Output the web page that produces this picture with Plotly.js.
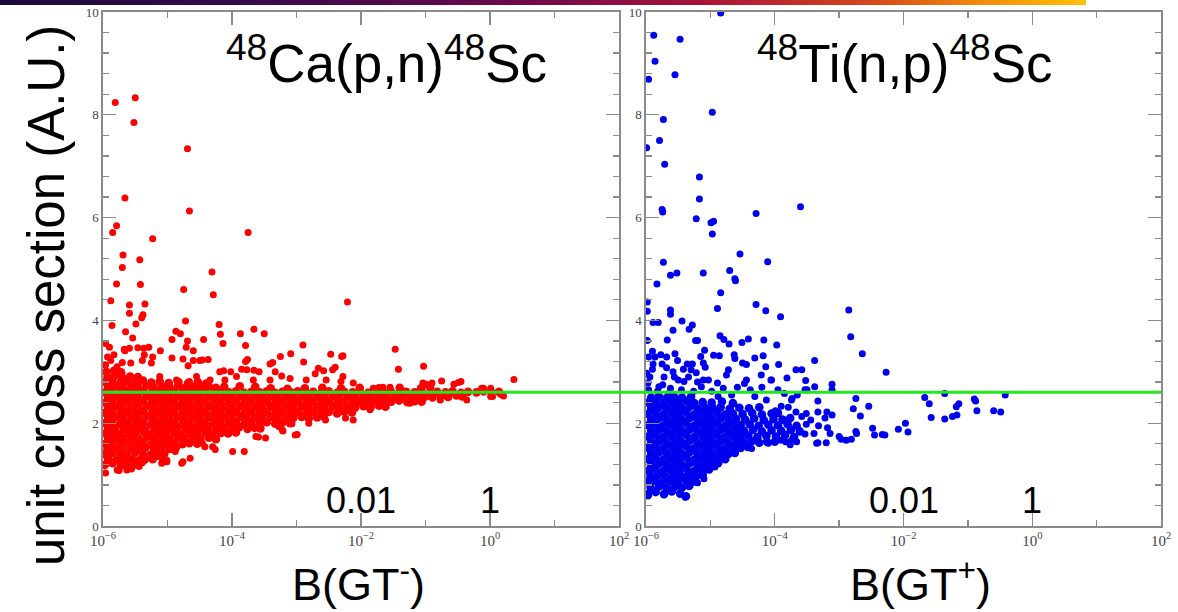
<!DOCTYPE html>
<html>
<head>
<meta charset="utf-8">
<script src="https://cdn.plot.ly/plotly-3.0.1.min.js"></script>
<style>
  html, body { margin: 0; padding: 0; background: #fff; }
  #wrap { position: relative; width: 1178px; height: 612px; }
  #bar { position: absolute; left: 0; top: 0; width: 1086px; height: 5px; z-index: 5;
         background: linear-gradient(to right, #1a0b3a 0%, #3b0a4c 25%, #6e0a4a 48%, #a8143a 65%, #d4461c 80%, #f08a0c 90%, #ffc200 100%); }
  #chart { position: absolute; left: 0; top: 0; width: 1178px; height: 612px; }
</style>
</head>
<body>
<div id="wrap"><div id="bar"></div><div id="chart"></div></div>
<script>
// ---- axis ticks ----
const xTickVals = [1e-6, 1e-4, 1e-2, 1, 100];
const xTickText = ['10<sup>−6</sup>', '10<sup>−4</sup>', '10<sup>−2</sup>', '10<sup>0</sup>', '10<sup>2</sup>'];
const xMinorVals = [1e-5, 1e-3, 1e-1, 10];
const yTickVals = [0, 2, 4, 6, 8, 10];
const yTickText = ['0', '2', '4', '6', '8', '10'];
const refLevel = 2.6;   // green reference line (unit cross section)

// ---- 48Ca(p,n)48Sc : [log10 B(GT-), unit cross section] ----
const caCore = [
 [-5.97,1.19],[-5.85,1.22],[-5.72,1.18],[-5.61,1.21],[-5.49,1.2],[-5.4,1.24],
 [-5.92,1.31],[-5.79,1.29],[-5.68,1.32],[-5.55,1.3],[-5.44,1.28],[-5.33,1.33],[-5.23,1.3],
 [-5.98,1.4],[-5.86,1.42],[-5.74,1.39],[-5.63,1.41],[-5.5,1.43],[-5.38,1.4],[-5.27,1.38],[-5.15,1.42],[-5.05,1.4],
 [-5.93,1.5],[-5.81,1.52],[-5.7,1.49],[-5.57,1.51],[-5.45,1.5],[-5.34,1.53],[-5.21,1.49],[-5.1,1.51],[-4.97,1.5],[-4.87,1.52],
 [-5.97,1.6],[-5.86,1.62],[-5.73,1.59],[-5.62,1.61],[-5.49,1.6],[-5.38,1.63],[-5.25,1.59],[-5.14,1.61],[-5.01,1.6],[-4.9,1.62],[-4.77,1.59],[-4.66,1.61],[-4.54,1.6],
 [-5.92,1.7],[-5.8,1.72],[-5.69,1.69],[-5.56,1.71],[-5.45,1.7],[-5.32,1.73],[-5.21,1.69],[-5.08,1.71],[-4.97,1.7],[-4.84,1.72],[-4.73,1.69],[-4.6,1.71],[-4.49,1.7],[-4.36,1.72],[-4.25,1.69],
 [-5.97,1.8],[-5.85,1.82],[-5.74,1.79],[-5.61,1.81],[-5.5,1.8],[-5.37,1.83],[-5.26,1.79],[-5.13,1.81],[-5.02,1.8],[-4.89,1.82],[-4.78,1.79],[-4.65,1.81],[-4.54,1.8],[-4.41,1.82],[-4.3,1.79],[-4.17,1.81],[-4.06,1.8],[-3.94,1.82],
 [-5.92,1.9],[-5.81,1.92],[-5.68,1.89],[-5.57,1.91],[-5.44,1.9],[-5.33,1.93],[-5.2,1.89],[-5.09,1.91],[-4.96,1.9],[-4.85,1.92],[-4.72,1.89],[-4.61,1.91],[-4.48,1.9],[-4.37,1.92],[-4.24,1.89],[-4.13,1.91],[-4.0,1.9],[-3.89,1.92],[-3.76,1.89],[-3.65,1.91],[-3.56,1.9],
 [-5.97,2.0],[-5.86,2.02],[-5.73,1.99],[-5.62,2.01],[-5.49,2.0],[-5.38,2.03],[-5.25,1.99],[-5.14,2.01],[-5.01,2.0],[-4.9,2.02],[-4.77,1.99],[-4.66,2.01],[-4.53,2.0],[-4.42,2.02],[-4.29,1.99],[-4.18,2.01],[-4.05,2.0],[-3.94,2.02],[-3.81,1.99],[-3.7,2.01],[-3.57,2.0],[-3.46,2.02],[-3.33,1.99],[-3.22,2.01],[-3.1,2.0],
 [-5.92,2.1],[-5.8,2.12],[-5.69,2.09],[-5.56,2.11],[-5.45,2.1],[-5.32,2.13],[-5.21,2.09],[-5.08,2.11],[-4.97,2.1],[-4.84,2.12],[-4.73,2.09],[-4.6,2.11],[-4.49,2.1],[-4.36,2.12],[-4.25,2.09],[-4.12,2.11],[-4.01,2.1],[-3.88,2.12],[-3.77,2.09],[-3.64,2.11],[-3.53,2.1],[-3.4,2.12],[-3.29,2.09],[-3.16,2.11],[-3.05,2.1],[-2.92,2.12],[-2.81,2.09],[-2.68,2.11],[-2.58,2.13],
 [-5.97,2.2],[-5.86,2.22],[-5.73,2.19],[-5.62,2.21],[-5.49,2.2],[-5.38,2.23],[-5.25,2.19],[-5.14,2.21],[-5.01,2.2],[-4.9,2.22],[-4.77,2.19],[-4.66,2.21],[-4.53,2.2],[-4.42,2.22],[-4.29,2.19],[-4.18,2.21],[-4.05,2.2],[-3.94,2.22],[-3.81,2.19],[-3.7,2.21],[-3.57,2.2],[-3.46,2.22],[-3.33,2.19],[-3.22,2.21],[-3.09,2.2],[-2.98,2.22],[-2.85,2.19],[-2.74,2.21],[-2.61,2.2],[-2.5,2.22],[-2.37,2.19],[-2.26,2.23],[-2.14,2.21],
 [-5.92,2.3],[-5.8,2.32],[-5.69,2.29],[-5.56,2.31],[-5.45,2.3],[-5.32,2.33],[-5.21,2.29],[-5.08,2.31],[-4.97,2.3],[-4.84,2.32],[-4.73,2.29],[-4.6,2.31],[-4.49,2.3],[-4.36,2.32],[-4.25,2.29],[-4.12,2.31],[-4.01,2.3],[-3.88,2.32],[-3.77,2.29],[-3.64,2.31],[-3.53,2.3],[-3.4,2.32],[-3.29,2.29],[-3.16,2.31],[-3.05,2.3],[-2.92,2.32],[-2.81,2.29],[-2.68,2.31],[-2.57,2.3],[-2.44,2.32],[-2.33,2.29],[-2.2,2.31],[-2.09,2.3],[-1.96,2.33],[-1.85,2.31],[-1.72,2.34],[-1.62,2.32],
 [-5.97,2.4],[-5.86,2.42],[-5.73,2.39],[-5.62,2.41],[-5.49,2.4],[-5.38,2.43],[-5.25,2.39],[-5.14,2.41],[-5.01,2.4],[-4.9,2.42],[-4.77,2.39],[-4.66,2.41],[-4.53,2.4],[-4.42,2.42],[-4.29,2.39],[-4.18,2.41],[-4.05,2.4],[-3.94,2.42],[-3.81,2.39],[-3.7,2.41],[-3.57,2.4],[-3.46,2.42],[-3.33,2.39],[-3.22,2.41],[-3.09,2.4],[-2.98,2.42],[-2.85,2.39],[-2.74,2.41],[-2.61,2.4],[-2.5,2.42],[-2.37,2.39],[-2.26,2.41],[-2.13,2.4],[-2.02,2.42],[-1.89,2.41],[-1.78,2.43],[-1.65,2.4],[-1.53,2.42],[-1.41,2.44],[-1.28,2.41],[-1.17,2.43],[-1.06,2.42],
 [-5.92,2.5],[-5.8,2.52],[-5.69,2.49],[-5.56,2.51],[-5.45,2.5],[-5.32,2.53],[-5.21,2.49],[-5.08,2.51],[-4.97,2.5],[-4.84,2.52],[-4.73,2.49],[-4.6,2.51],[-4.49,2.5],[-4.36,2.52],[-4.25,2.49],[-4.12,2.51],[-4.01,2.5],[-3.88,2.52],[-3.77,2.49],[-3.64,2.51],[-3.53,2.5],[-3.4,2.52],[-3.29,2.49],[-3.16,2.51],[-3.05,2.5],[-2.92,2.52],[-2.81,2.49],[-2.68,2.51],[-2.57,2.5],[-2.44,2.52],[-2.33,2.49],[-2.2,2.51],[-2.09,2.5],[-1.96,2.52],[-1.85,2.49],[-1.72,2.51],[-1.61,2.5],[-1.48,2.52],[-1.37,2.5],[-1.24,2.53],[-1.13,2.51],[-1.0,2.52],[-0.89,2.5],[-0.76,2.53],[-0.65,2.51],[-0.52,2.54],[-0.43,2.52],
 [-5.97,2.6],[-5.86,2.62],[-5.73,2.59],[-5.62,2.61],[-5.49,2.6],[-5.38,2.63],[-5.25,2.59],[-5.14,2.61],[-5.01,2.6],[-4.9,2.62],[-4.77,2.59],[-4.66,2.61],[-4.53,2.6],[-4.42,2.62],[-4.29,2.59],[-4.18,2.61],[-4.05,2.6],[-3.94,2.62],[-3.81,2.59],[-3.7,2.61],[-3.57,2.6],[-3.46,2.62],[-3.33,2.59],[-3.22,2.61],[-3.09,2.6],[-2.98,2.62],[-2.85,2.59],[-2.74,2.61],[-2.61,2.6],[-2.5,2.62],[-2.37,2.59],[-2.26,2.61],[-2.13,2.6],[-2.02,2.62],[-1.89,2.59],[-1.78,2.61],[-1.65,2.6],[-1.54,2.62],[-1.41,2.59],[-1.3,2.61],[-1.17,2.6],[-1.06,2.62],[-0.93,2.59],[-0.82,2.61],[-0.69,2.6],[-0.58,2.62],[-0.45,2.59],[-0.34,2.61],[-0.21,2.6],[-0.1,2.62],[0.02,2.6],[0.14,2.61],
 [-5.92,2.7],[-5.8,2.72],[-5.69,2.69],[-5.56,2.71],[-5.45,2.7],[-5.32,2.73],[-5.21,2.69],[-5.08,2.71],[-4.97,2.7],[-4.84,2.72],[-4.73,2.69],[-4.6,2.71],[-4.49,2.7],[-4.36,2.72],[-4.25,2.69],[-4.12,2.71],[-3.88,2.72],[-3.64,2.71],[-3.4,2.68],[-3.14,2.67],[-2.87,2.68],[-2.6,2.69],[-2.31,2.68],[-2.02,2.69],[-1.72,2.68],[-1.4,2.69],[-1.07,2.68],[-0.93,2.7],
 [-5.97,2.8],[-5.86,2.82],[-5.73,2.79],[-5.62,2.81],[-5.49,2.8],[-5.38,2.83],[-5.25,2.79],[-5.12,2.81],[-4.98,2.78],[-4.83,2.8],[-4.68,2.78],[-4.53,2.8],[-4.4,2.77],
 [-5.93,2.9],[-5.82,2.92],[-5.7,2.89],[-5.58,2.91],[-5.46,2.9],[-5.95,3.0],[-5.83,3.02],[-5.72,2.99]
];
const caUpper = [
 [-5.81,8.24],[-5.50,8.33],[-5.52,7.85],[-4.69,7.34],[-5.66,6.38],[-4.66,6.13],[-5.79,5.84],[-5.85,5.71],[-5.23,5.59],[-3.75,5.71],
 [-5.69,5.27],[-5.43,5.18],[-5.70,5.03],[-4.31,4.94],[-5.79,4.71],[-5.42,4.70],[-4.75,4.60],[-4.29,4.50],[-5.88,4.38],[-5.59,4.30],
 [-5.35,4.32],[-5.59,4.14],[-5.38,4.11],[-5.40,4.05],[-2.21,4.36],[-5.86,3.90],[-5.49,3.93],[-4.72,3.99],[-4.20,3.92],[-5.65,3.78],
 [-4.87,3.79],[-4.80,3.74],[-5.54,3.66],[-4.93,3.63],[-4.44,3.63],[-4.18,3.73],[-3.87,3.74],[-3.66,3.83],[-3.50,3.74],[-4.69,3.60],
 [-4.14,3.55],[-3.79,3.51],[-2.90,3.52],[-5.96,3.55],[-5.90,3.48],[-5.66,3.41],[-5.37,3.46],[-5.29,3.48],[-5.11,3.41],[-4.71,3.48],
 [-4.60,3.41],[-1.47,3.44],[-2.47,3.34],[-2.30,3.30],[-3.25,3.30],[-3.09,3.35],[-4.93,3.27],[-4.76,3.25],[-5.23,3.29],[-4.46,3.23],
 [-4.37,3.24],[-3.37,3.18],[-3.76,3.24],[-2.89,3.19],[-1.42,3.05],[-1.03,3.11],[-2.40,3.09],[-2.66,3.07],[-3.66,3.03],[-3.85,3.05],
 [-4.13,3.02],[-2.28,3.31],[-5.59,3.46],[-5.46,3.47],[-5.36,3.33],[-5.25,3.17],[-5.39,3.22],[-5.57,3.17],[-4.68,3.12],[-4.6,3.22],
 [-4.5,3.22],[-4.19,3.0],[-4.02,3.0],[-3.79,3.2],[-3.77,3.04],[-3.58,3.0],[-3.41,3.15],[-3.33,3.0],[-3.23,2.92],[-2.71,2.96],
 [-2.58,3.02],[-2.44,3.04],[-2.28,2.91],[-2.31,2.81],[-2.54,2.84],[-2.85,2.84],[-3.1,2.87],[-3.41,2.84],[-3.67,2.84],[-3.93,2.91],
 [-4.11,2.84],[-4.34,2.84],[-4.55,2.91],[-4.66,2.81],[-4.86,2.84],[-4.99,2.78],[-5.12,2.91],[-5.93,3.29],[-5.83,3.33],[-5.67,3.44],
 [-5.96,3.13],[-5.88,3.22],[-5.78,3.1],[-5.7,3.18]
];
const caLower = [
 [-5.96,1.03],[-5.78,1.09],[-5.63,1.09],[-5.55,1.14],[-5.35,1.28],[-5.09,1.22],[-5.01,1.28],[-4.78,1.22],[-4.65,1.32],[-5.16,1.35],
 [-4.88,1.45],[-4.46,1.61],[-4.3,1.54],[-3.99,1.45],[-3.81,1.45],[-3.63,1.74],[-3.48,1.71],[-3.22,1.87],[-3.02,1.77],[-3.27,1.93],
 [-3.07,1.99],[-2.81,2.0],[-2.55,2.06],[-2.24,2.1],[-2.12,2.06],[-2.99,1.78],[-3.21,1.85],[-3.59,1.73],[-4.26,1.49],[-4.42,1.54],
 [-4.76,1.25],[-5.01,1.25],[-5.09,1.33],[-5.75,1.08],[-5.56,1.11],[-5.44,1.16],[-5.89,1.23],[-5.67,1.29]
];
const caTail = [
 [0.37,2.85],[0.17,2.56],[0.01,2.68],[0.01,2.52],[-0.13,2.68],[-0.49,2.79],[-0.75,2.82],[-0.99,2.76],[-0.45,2.81],[-0.56,2.76],
 [-0.1,2.68],[0.04,2.52],[0.21,2.53],[-1.04,2.78],[-0.9,2.78],[-1.81,2.68],[-1.66,2.7],[-1.55,2.7],[-1.86,2.26],[-1.71,2.39],
 [-1.24,2.39],[-0.77,2.45],[-0.36,2.45],[-2.12,2.78]
];

// ---- 48Ti(n,p)48Sc : [log10 B(GT+), unit cross section] ----
const tiCore = [
 [-5.97,0.6],[-5.85,0.66],[-5.72,0.62],[-5.6,0.67],[-5.47,0.63],[-5.38,0.58],
 [-5.93,0.75],[-5.8,0.77],[-5.68,0.74],[-5.56,0.76],[-5.44,0.75],[-5.33,0.78],
 [-5.98,0.86],[-5.86,0.88],[-5.74,0.85],[-5.62,0.87],[-5.5,0.86],[-5.38,0.89],[-5.27,0.86],
 [-5.93,0.97],[-5.81,0.99],[-5.69,0.96],[-5.57,0.98],[-5.45,0.97],[-5.33,1.0],[-5.22,0.97],[-5.12,0.99],
 [-5.97,1.08],[-5.85,1.1],[-5.73,1.07],[-5.61,1.09],[-5.49,1.08],[-5.37,1.11],[-5.25,1.07],[-5.13,1.09],[-5.02,1.1],
 [-5.92,1.19],[-5.8,1.21],[-5.68,1.18],[-5.56,1.2],[-5.44,1.19],[-5.32,1.22],[-5.2,1.18],[-5.08,1.2],[-4.96,1.19],[-4.88,1.22],
 [-5.97,1.3],[-5.85,1.32],[-5.73,1.29],[-5.61,1.31],[-5.49,1.3],[-5.37,1.33],[-5.25,1.29],[-5.13,1.31],[-5.01,1.3],[-4.89,1.32],[-4.77,1.3],
 [-5.92,1.41],[-5.8,1.43],[-5.68,1.4],[-5.56,1.42],[-5.44,1.41],[-5.32,1.44],[-5.2,1.4],[-5.08,1.42],[-4.96,1.41],[-4.84,1.43],[-4.72,1.4],[-4.62,1.42],
 [-5.97,1.52],[-5.85,1.54],[-5.73,1.51],[-5.61,1.53],[-5.49,1.52],[-5.37,1.55],[-5.25,1.51],[-5.13,1.53],[-5.01,1.52],[-4.89,1.54],[-4.77,1.51],[-4.65,1.53],[-4.53,1.52],[-4.42,1.54],
 [-5.92,1.63],[-5.8,1.65],[-5.68,1.62],[-5.56,1.64],[-5.44,1.63],[-5.32,1.66],[-5.2,1.62],[-5.08,1.64],[-4.96,1.63],[-4.84,1.65],[-4.72,1.62],[-4.6,1.64],[-4.48,1.63],[-4.36,1.65],[-4.24,1.62],[-4.12,1.64],[-4.0,1.64],
 [-5.97,1.74],[-5.85,1.76],[-5.73,1.73],[-5.61,1.75],[-5.49,1.74],[-5.37,1.77],[-5.25,1.73],[-5.13,1.75],[-5.01,1.74],[-4.89,1.76],[-4.77,1.73],[-4.65,1.75],[-4.53,1.74],[-4.41,1.76],[-4.27,1.73],[-4.13,1.75],[-3.98,1.74],[-3.84,1.77],[-3.7,1.73],
 [-5.92,1.85],[-5.8,1.87],[-5.68,1.84],[-5.56,1.86],[-5.44,1.85],[-5.32,1.88],[-5.2,1.84],[-5.08,1.86],[-4.96,1.85],[-4.84,1.87],[-4.72,1.84],[-4.6,1.86],[-4.48,1.85],[-4.34,1.87],[-4.2,1.84],[-4.05,1.86],[-3.9,1.85],[-3.75,1.87],[-3.61,1.84],
 [-5.97,1.96],[-5.85,1.98],[-5.73,1.95],[-5.61,1.97],[-5.49,1.96],[-5.37,1.99],[-5.25,1.95],[-5.13,1.97],[-5.01,1.96],[-4.89,1.98],[-4.77,1.95],[-4.65,1.97],[-4.53,1.96],[-4.39,1.98],[-4.25,1.95],[-4.1,1.97],[-3.95,1.96],[-3.8,1.98],[-3.66,1.95],
 [-5.92,2.07],[-5.8,2.09],[-5.68,2.06],[-5.56,2.08],[-5.44,2.07],[-5.32,2.1],[-5.2,2.06],[-5.08,2.08],[-4.96,2.07],[-4.84,2.09],[-4.72,2.06],[-4.6,2.08],[-4.46,2.07],[-4.32,2.09],[-4.17,2.06],[-4.02,2.08],[-3.88,2.07],[-3.76,2.1],
 [-5.97,2.18],[-5.85,2.2],[-5.73,2.17],[-5.61,2.19],[-5.49,2.18],[-5.37,2.21],[-5.25,2.17],[-5.13,2.19],[-5.01,2.18],[-4.89,2.2],[-4.77,2.17],[-4.65,2.19],[-4.5,2.18],[-4.35,2.2],[-4.2,2.17],[-4.05,2.19],[-3.95,2.2],
 [-5.92,2.29],[-5.8,2.31],[-5.68,2.28],[-5.56,2.3],[-5.44,2.29],[-5.32,2.32],[-5.2,2.28],[-5.08,2.3],[-4.96,2.29],[-4.84,2.31],[-4.7,2.28],[-4.55,2.3],[-4.4,2.29],[-4.24,2.31],
 [-5.97,2.4],[-5.85,2.42],[-5.73,2.39],[-5.61,2.41],[-5.49,2.4],[-5.37,2.43],[-5.25,2.39],[-5.12,2.41],[-4.98,2.4],[-4.82,2.42],[-4.65,2.39],
 [-5.92,2.5],[-5.8,2.52],[-5.68,2.49],[-5.56,2.51],[-5.44,2.5],[-5.3,2.52]
];
const tiUpper = [
 [-4.84,9.98],[-5.88,9.55],[-5.47,9.47],[-5.86,9.04],[-5.96,8.69],[-5.55,8.78],[-4.97,8.05],[-5.73,7.91],[-5.79,7.50],[-5.99,7.36],
 [-5.71,7.04],[-5.17,6.79],[-5.17,6.36],[-5.75,6.16],[-5.74,6.11],[-3.60,6.21],[-5.22,5.98],[-4.99,5.90],[-4.95,5.93],[-4.97,5.68],
 [-4.29,6.08],[-4.54,5.29],[-4.11,5.14],[-5.73,5.13],[-4.70,4.97],[-5.11,4.92],[-5.62,4.88],[-5.52,4.92],[-4.62,4.81],
 [-4.61,4.77],[-5.83,4.71],[-4.84,4.54],[-5.98,4.36],[-4.89,4.23],[-4.29,4.31],[-4.14,4.19],[-3.91,4.07],[-5.62,4.20],[-5.98,4.18],
 [-5.62,4.12],[-5.89,3.96],[-5.81,3.96],[-5.44,3.99],[-5.58,3.81],[-5.33,3.83],[-5.28,3.91],[-5.98,3.61],[-5.67,3.62],[-5.23,3.61],
 [-5.20,3.61],[-4.85,3.70],[-4.79,3.63],[-4.71,3.54],[-4.51,3.57],[-4.41,3.64],[-4.17,3.62],[-3.97,3.52],[-4.95,3.32],[-4.86,3.31],
 [-4.63,3.33],[-4.62,3.26],[-5.09,3.42],[-4.31,3.27],[-4.18,3.31],[-3.38,3.22],[-5.96,3.29],[-5.86,3.29],[-5.77,3.33],[-5.68,3.29],
 [-5.75,3.15],[-5.68,3.08],[-5.89,3.15],[-5.51,3.22],[-5.36,3.15],[-5.28,3.15],[-5.11,3.17],[-5.08,3.09],[-3.94,3.14],[-4.14,3.10],
 [-4.5,3.17],[-4.44,3.14],[-3.81,2.88],[-3.67,3.04],[-3.58,3.04],[-3.52,2.83],[-4.06,2.84],[-4.21,2.94],[-4.44,2.84],[-4.75,2.94],
 [-4.72,3.04],[-5.22,2.98],[-5.3,3.04],[-5.99,2.97],[-5.94,2.9],[-5.72,2.90],[-5.56,2.9],[-5.41,2.81],[-5.11,2.84],[-4.89,2.78],
 [-3.5,2.65],[-5.96,2.65],[-5.8,2.71],[-5.65,2.58],[-5.5,2.84],[-5.34,2.9],[-5.14,2.71],[-5.03,2.84],[-4.88,2.52],[-4.67,2.55],
 [-4.47,2.77],[-4.31,2.52],[-4.05,2.84],[-3.85,2.58],[-3.74,2.45],[-3.53,2.65],[-3.38,2.71],
 [-5.97,2.78],[-5.9,3.05],[-5.82,2.62],[-5.74,2.75],[-5.62,2.68],[-5.58,3.0],[-5.45,2.65],[-5.42,3.05],[-5.26,2.62],[-5.2,2.8],
 [-4.98,2.62],[-4.8,2.68],[-4.58,2.7],[-4.38,2.65],[-4.2,2.7],[-3.95,2.65],[-3.65,2.55],[-5.9,3.4],[-5.55,3.35],[-5.15,3.3]
];
const tiMid = [
 [-4.13,2.45],[-3.99,2.24],[-3.9,2.33],[-3.79,2.31],[-3.73,2.48],[-3.67,2.22],[-3.58,2.13],[-3.51,1.98],[-3.44,2.06],[-3.51,2.19],
 [-3.33,2.22],[-3.19,2.22],[-3.11,2.16],[-3.22,2.10],[-3.32,1.95],[-3.18,1.91],[-3.39,1.80],[-3.53,1.79],[-3.66,1.64],[-3.76,1.58],
 [-3.83,1.64],[-3.0,1.74],[-2.73,1.80],
 [-5.96,0.64],[-5.39,0.56],[-5.6,0.86],[-5.39,0.96],[-5.11,1.04],[-4.93,1.15],[-4.78,1.35],[-4.62,1.48],[-4.36,1.51],[-4.1,1.61],
 [-3.9,1.67],[-3.74,1.67],[-3.35,1.61],[-5.2,0.84],[-5.1,0.92]
];
const tiSparse = [
 [-2.85,4.20],[-2.82,3.68],[-2.64,3.35],[-2.27,2.99],[-3.11,2.76],[-3.11,2.65],[-3.33,2.43],[-2.74,2.48],[-2.54,2.33],[-2.78,2.28],
 [-2.67,2.14],[-2.48,1.90],[-2.45,1.77],[-2.33,1.78],[-2.29,1.77],[-2.74,1.84],[-2.97,1.69],[-2.89,1.67],[-2.81,1.69],[-3.14,1.80],
 [-3.2,1.62],[-3.33,1.62],[-2.08,1.88],[-1.97,2.0],[-1.93,1.83],[-1.67,2.50],[-1.6,2.38],[-1.57,2.11],[-1.36,2.58],[-1.36,2.08],
 [-1.24,2.13],[-1.17,2.16],[-1.18,2.32],[-1.14,2.38],[-0.9,2.47],[-0.88,2.43],[-0.86,2.24],[-0.6,2.24],[-0.49,2.22],[-0.42,2.55]
];

// ---- text ----
const panelTitles = ['<sup>48</sup>Ca(p,n)<sup>48</sup>Sc', '<sup>48</sup>Ti(n,p)<sup>48</sup>Sc'];
const xTitles = ['B(GT<sup>-</sup>)', 'B(GT<sup>+</sup>)'];
const yTitle = 'unit cross section (A.U.)';
const bigTickLabels = ['0.01', '1'];
const bigTickVals = [1e-2, 1];

// ---- build ----
const caSpread = caUpper.concat(caLower, caTail);
const tiSpread = tiUpper.concat(tiMid, tiSparse);

const W = 1178, H = 612;
const xDom1 = [103 / W, 619 / W];
const xDom2 = [646 / W, 1161 / W];
const yDom = [1 - 526 / H, 1 - 12 / H];

function markers(pts, color, size, xa, ya) {
  return { x: pts.map(p => Math.pow(10, p[0])), y: pts.map(p => p[1]), type: 'scatter', mode: 'markers',
    marker: { color: color, size: size, line: { width: 0 } }, xaxis: xa, yaxis: ya, hoverinfo: 'skip' };
}
const traces = [
  markers(caCore, '#ff0000', 8.6, 'x', 'y'),
  markers(caSpread, '#ff0000', 7, 'x', 'y'),
  markers(tiCore, '#0000ee', 8.6, 'x2', 'y2'),
  markers(tiSpread, '#0000ee', 7, 'x2', 'y2')
];

const frameColor = '#8a8a8a';
function xAxis(domain, anchor) {
  return {
    type: 'log', domain: domain, anchor: anchor, range: [-6, 2],
    tickmode: 'array', tickvals: xTickVals, ticktext: xTickText,
    ticks: 'inside', ticklen: 13, tickwidth: 1.3, tickcolor: frameColor,
    minor: { tickmode: 'array', tickvals: xMinorVals, ticks: 'inside', ticklen: 6, tickwidth: 1.3, tickcolor: frameColor, showgrid: false },
    showline: true, linecolor: frameColor, linewidth: 1.6, mirror: 'allticks',
    showgrid: false, zeroline: false,
    tickfont: { family: 'Liberation Serif, serif', size: 15, color: '#444' }
  };
}
function yAxis(domain, anchor) {
  return {
    domain: domain, anchor: anchor, range: [0, 10],
    tickmode: 'array', tickvals: yTickVals, ticktext: yTickText,
    ticks: 'inside', ticklen: 13, tickwidth: 1.3, tickcolor: frameColor,
    minor: { dtick: 0.4, tick0: 0, ticks: 'inside', ticklen: 6, tickwidth: 1.3, tickcolor: frameColor, showgrid: false },
    showline: true, linecolor: frameColor, linewidth: 1.6, mirror: 'allticks',
    showgrid: false, zeroline: false,
    tickfont: { family: 'Liberation Serif, serif', size: 13, color: '#444' }
  };
}

const sans = 'Liberation Sans, Arial, sans-serif';
const annotations = [];
annotations.push({ xref: 'paper', yref: 'paper', x: 386 / W, y: 1 - 60 / H, text: panelTitles[0], showarrow: false,
  xanchor: 'center', yanchor: 'middle', font: { family: sans, size: 53, color: '#000' } });
annotations.push({ xref: 'paper', yref: 'paper', x: 905 / W, y: 1 - 60 / H, text: panelTitles[1], showarrow: false,
  xanchor: 'center', yanchor: 'middle', font: { family: sans, size: 53, color: '#000' } });
['x', 'x2'].forEach(function (xr) {
  bigTickVals.forEach(function (v, i) {
    annotations.push({ xref: xr, yref: 'paper', x: Math.log10(v), y: 1 - 500 / H, text: bigTickLabels[i], showarrow: false,
      xanchor: 'center', yanchor: 'middle', font: { family: sans, size: 36, color: '#000' } });
  });
});
annotations.push({ xref: 'paper', yref: 'paper', x: 358 / W, y: 1 - 581 / H, text: xTitles[0], showarrow: false,
  xanchor: 'center', yanchor: 'middle', font: { family: sans, size: 45, color: '#000' } });
annotations.push({ xref: 'paper', yref: 'paper', x: 920 / W, y: 1 - 581 / H, text: xTitles[1], showarrow: false,
  xanchor: 'center', yanchor: 'middle', font: { family: sans, size: 45, color: '#000' } });
annotations.push({ xref: 'paper', yref: 'paper', x: 46 / W, y: 1 - 296 / H, text: yTitle, showarrow: false, textangle: -90,
  xanchor: 'center', yanchor: 'middle', font: { family: sans, size: 51, color: '#000' } });

const layout = {
  width: W, height: H,
  margin: { l: 0, r: 0, t: 0, b: 0, pad: 0 },
  paper_bgcolor: '#ffffff', plot_bgcolor: '#ffffff',
  showlegend: false,
  xaxis: xAxis(xDom1, 'y'),
  yaxis: yAxis(yDom, 'x'),
  xaxis2: xAxis(xDom2, 'y2'),
  yaxis2: yAxis(yDom, 'x2'),
  shapes: [{ type: 'line', xref: 'paper', yref: 'y', x0: xDom1[0], x1: xDom2[1], y0: refLevel, y1: refLevel,
             line: { color: '#22e61e', width: 3 }, layer: 'above' }],
  annotations: annotations
};

Plotly.newPlot('chart', traces, layout, { staticPlot: true, displayModeBar: false });
</script>
</body>
</html>
